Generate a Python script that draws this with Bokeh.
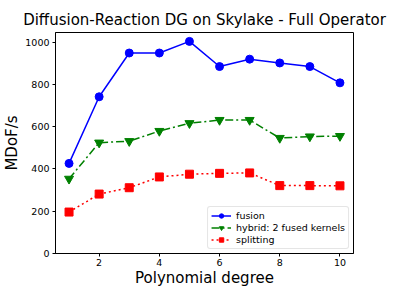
from bokeh.plotting import figure
from bokeh.embed import file_html
from bokeh.resources import INLINE
from bokeh.models import FixedTicker, Range1d, Legend, LegendItem

degrees = [1, 2, 3, 4, 5, 6, 7, 8, 9, 10]
fusion = [426, 741, 948, 948, 1003, 884, 919, 901, 884, 807]
hybrid = [353, 524, 531, 579, 616, 631, 631, 546, 553, 555]
splitting = [196, 281, 311, 362, 375, 379, 381, 321, 321, 320]
y_ticks = [0, 200, 400, 600, 800, 1000]
x_ticks = [2, 4, 6, 8, 10]

FONT = "DejaVu Sans"

p = figure(width=391, height=289, output_backend="svg", toolbar_location=None,
           x_range=Range1d(0.55, 10.45), y_range=Range1d(0, 1045),
           title="Diffusion-Reaction DG on Skylake - Full Operator",
           min_border_left=40, min_border_right=38, min_border_top=32, min_border_bottom=20)

p.title.text_font = FONT
p.title.text_font_size = "15px"
p.title.text_font_style = "normal"
p.title.align = "center"
p.title.text_color = "black"
p.title.standoff = 8

p.xgrid.visible = False
p.ygrid.visible = False
p.outline_line_color = "black"
p.outline_line_width = 1

for ax in (p.xaxis, p.yaxis):
    ax.axis_line_color = "black"
    ax.major_tick_line_color = "black"
    ax.major_tick_out = 3
    ax.major_tick_in = 0
    ax.minor_tick_line_color = None
    ax.major_label_text_font = FONT
    ax.major_label_text_font_size = "9.5px"
    ax.major_label_text_color = "black"
    ax.axis_label_text_font = FONT
    ax.axis_label_text_font_size = "15px"
    ax.axis_label_text_font_style = "normal"
    ax.axis_label_text_color = "black"

p.xaxis.ticker = FixedTicker(ticks=x_ticks)
p.yaxis.ticker = FixedTicker(ticks=y_ticks)
p.xaxis.axis_label = "Polynomial degree"
p.yaxis.axis_label = "MDoF/s"
p.xaxis.major_label_standoff = 2
p.yaxis.major_label_standoff = 3
p.xaxis.axis_label_standoff = 0
p.yaxis.axis_label_standoff = 1

l1 = p.line(degrees, fusion, color="#0000ff", line_width=1.5)
m1 = p.scatter(degrees, fusion, marker="circle", size=8, color="#0000ff")
l2 = p.line(degrees, hybrid, color="#008000", line_width=1.5, line_dash="8 3 2 3")
m2 = p.scatter(degrees, hybrid, marker="inverted_triangle", size=9, color="#008000")
l3 = p.line(degrees, splitting, color="#ff0000", line_width=1.5, line_dash="2 3")
m3 = p.scatter(degrees, splitting, marker="square", size=8, color="#ff0000")

legend = Legend(items=[
    LegendItem(label="fusion", renderers=[l1, m1]),
    LegendItem(label="hybrid: 2 fused kernels", renderers=[l2, m2]),
    LegendItem(label="splitting", renderers=[l3, m3]),
], location="bottom_right")
legend.label_text_font = FONT
legend.label_text_font_size = "9.5px"
legend.label_text_color = "black"
legend.label_height = 11
legend.glyph_height = 11
legend.glyph_width = 20
legend.label_standoff = 5
legend.spacing = 1
legend.padding = 3
legend.margin = 4
legend.border_line_color = "#cccccc"
legend.border_line_width = 1
legend.border_radius = 3
legend.background_fill_alpha = 0.8
p.add_layout(legend)

open("out.html", "w").write(file_html(p, INLINE))
